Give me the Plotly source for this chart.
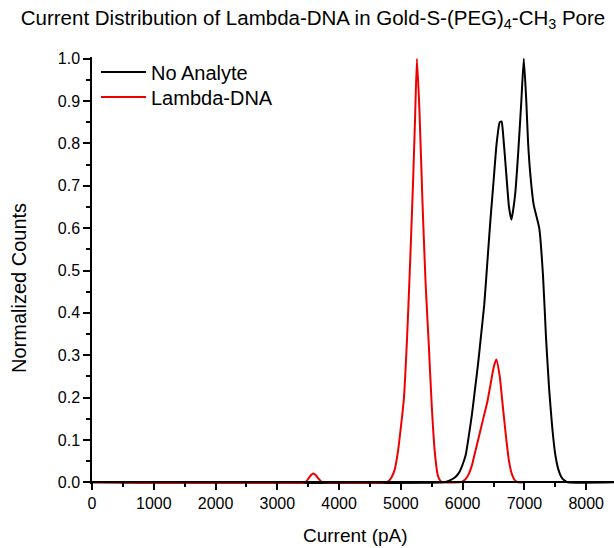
import plotly.graph_objects as go

# Current (pA) sample points and normalized histogram counts
no_analyte_current = [0, 5700, 5750, 5800, 5850, 5900, 5950, 6000, 6050, 6100, 6150, 6200,
                      6250, 6300, 6350, 6400, 6450, 6500, 6550, 6600, 6630, 6650, 6700,
                      6750, 6790, 6850, 6900, 6950, 6990, 7030, 7060, 7100, 7150, 7200,
                      7240, 7300, 7350, 7400, 7450, 7500, 7550, 7600, 7650, 7700, 8500]
no_analyte_counts = [0, 0, 0.002, 0.005, 0.009, 0.015, 0.025, 0.042, 0.065, 0.11, 0.16, 0.22,
                     0.28, 0.35, 0.42, 0.52, 0.62, 0.71, 0.80, 0.85, 0.852, 0.83, 0.74,
                     0.65, 0.62, 0.68, 0.78, 0.90, 1.0, 0.90, 0.80, 0.72, 0.655, 0.625,
                     0.60, 0.49, 0.34, 0.22, 0.13, 0.065, 0.03, 0.012, 0.004, 0, 0]

lambda_current = [0, 3450, 3500, 3550, 3580, 3620, 3670, 3720, 3750,
                  4750, 4800, 4850, 4900, 4950, 5000, 5050, 5100, 5150, 5200, 5230, 5260,
                  5300, 5350, 5400, 5450, 5500, 5550, 5600, 5650, 5700,
                  5950, 6000, 6050, 6100, 6150, 6200, 6250, 6300, 6350, 6400, 6450, 6500,
                  6545, 6600, 6650, 6700, 6750, 6800, 6850, 6900, 7000]
lambda_counts = [0, 0, 0.008, 0.018, 0.021, 0.017, 0.008, 0.001, 0,
                 0, 0.003, 0.012, 0.03, 0.07, 0.13, 0.2, 0.34, 0.52, 0.72, 0.86, 1.0,
                 0.88, 0.66, 0.47, 0.33, 0.18, 0.07, 0.015, 0.002, 0,
                 0, 0.002, 0.008, 0.02, 0.04, 0.07, 0.1, 0.13, 0.16, 0.19, 0.23, 0.27,
                 0.29, 0.25, 0.18, 0.11, 0.05, 0.018, 0.004, 0, 0]

x_ticks = [0, 1000, 2000, 3000, 4000, 5000, 6000, 7000, 8000]
y_ticks = [0.0, 0.1, 0.2, 0.3, 0.4, 0.5, 0.6, 0.7, 0.8, 0.9, 1.0]

FONT = "Liberation Sans, Arial, sans-serif"
Y_PAD = 0.004

# Plot-area geometry in pixels
W, H = 614, 548
ML, MR, MT, MB = 92, 0, 57, 64
plot_w = W - ML - MR
plot_h = H - MT - MB


def px_to_paper(px, py):
    """Convert page pixel position to paper coordinates of the plot area."""
    return (px - ML) / plot_w, (H - MB - py) / plot_h


fig = go.Figure()
fig.add_trace(go.Scatter(x=no_analyte_current, y=no_analyte_counts, mode="lines",
                         name="No Analyte", legend="legend",
                         line=dict(color="black", width=2, shape="spline", smoothing=0.5)))
fig.add_trace(go.Scatter(x=lambda_current, y=lambda_counts, mode="lines",
                         name="Lambda-DNA", legend="legend2",
                         line=dict(color="#ee0000", width=2, shape="spline", smoothing=0.5)))

leg1_x, leg1_y = px_to_paper(96, 72)
leg2_x, leg2_y = px_to_paper(96, 97)
legend_style = dict(xanchor="left", yanchor="middle", bgcolor="rgba(0,0,0,0)",
                    font=dict(size=20, family=FONT), itemwidth=45)

xt_x, xt_y = px_to_paper(355, 535)
yt_x, yt_y = px_to_paper(19, 288)

fig.update_layout(
    width=W, height=H,
    margin=dict(l=ML, r=MR, t=MT, b=MB),
    paper_bgcolor="white", plot_bgcolor="white",
    font=dict(family=FONT, color="black", size=16),
    title=dict(text="Current Distribution of Lambda-DNA in Gold-S-(PEG)<sub>4</sub>-CH<sub>3</sub> Pore",
               x=313 / W, xref="container", xanchor="center",
               y=1 - 18 / H, yref="container", yanchor="middle",
               font=dict(size=20.5, family=FONT)),
    showlegend=True,
    legend=dict(x=leg1_x, y=leg1_y, **legend_style),
    legend2=dict(x=leg2_x, y=leg2_y, **legend_style),
    xaxis=dict(range=[0, 8450], tickvals=x_ticks, ticktext=[str(v) for v in x_ticks],
               showgrid=False, zeroline=False, showline=True, linecolor="black",
               linewidth=1.5, ticks="outside", ticklen=7, tickwidth=1.5,
               tickcolor="black", anchor="free", position=Y_PAD / (1 + 2 * Y_PAD),
               minor=dict(dtick=500, ticks="outside", ticklen=4, tickwidth=1.5,
                          tickcolor="black", showgrid=False),
               tickfont=dict(size=16)),
    yaxis=dict(range=[-Y_PAD, 1 + Y_PAD], tickvals=y_ticks,
               ticktext=[f"{v:.1f}" for v in y_ticks],
               showgrid=False, zeroline=False, showline=True, linecolor="black",
               linewidth=1.5, ticks="outside", ticklen=7, tickwidth=1.5,
               tickcolor="black",
               minor=dict(dtick=0.05, ticks="outside", ticklen=4, tickwidth=1.5,
                          tickcolor="black", showgrid=False),
               tickfont=dict(size=16)),
    annotations=[
        dict(text="Current (pA)", x=xt_x, y=xt_y, xref="paper", yref="paper",
             showarrow=False, font=dict(size=19, family=FONT),
             xanchor="center", yanchor="middle"),
        dict(text="Normalized Counts", x=yt_x, y=yt_y, xref="paper", yref="paper",
             showarrow=False, textangle=-90, font=dict(size=20, family=FONT),
             xanchor="center", yanchor="middle"),
    ],
)

fig.write_html("out.html")
